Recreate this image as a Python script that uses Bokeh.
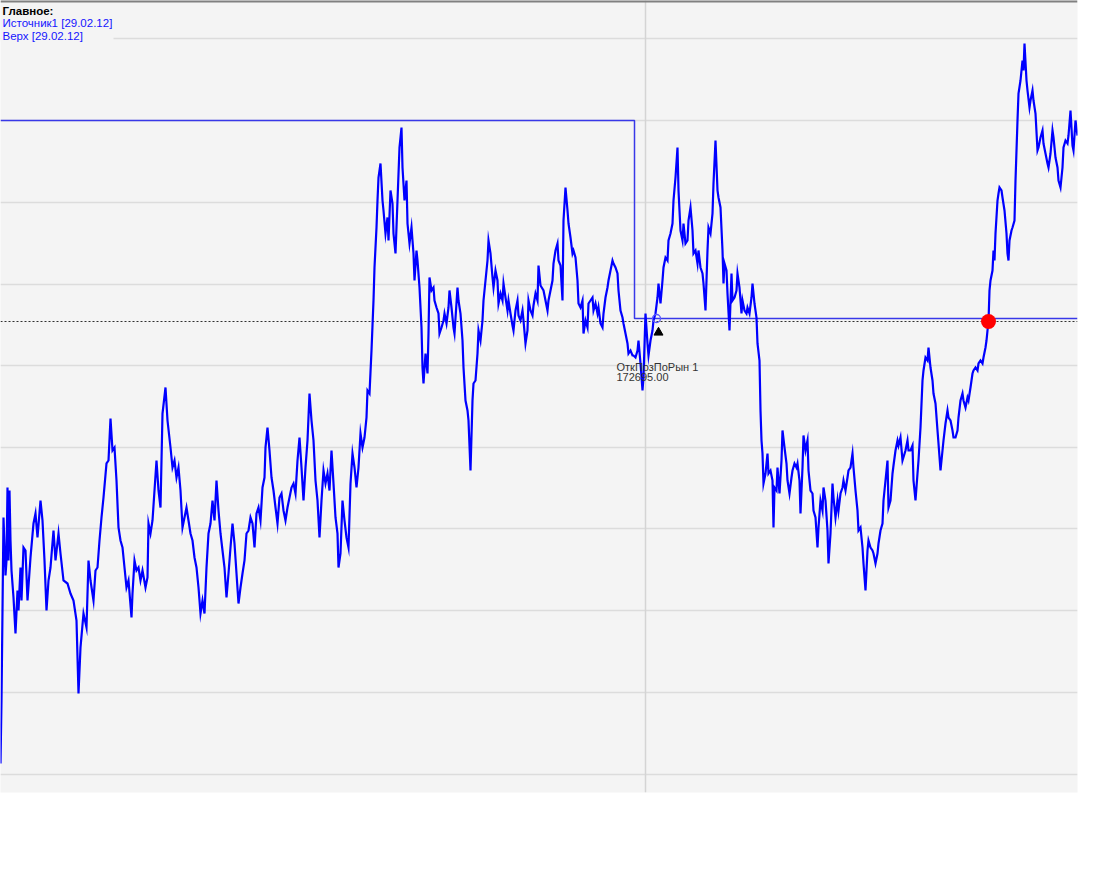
from bokeh.plotting import figure
from bokeh.models import Range1d, Span, Label, BoxAnnotation, FixedTicker
from bokeh.embed import file_html
from bokeh.resources import INLINE

# ---- price series "Источник1" (bar index, price) ----
bar_a = [0,1,2,3,5,6,7,8,9,10,11,13,15,17,18,20,21,23,25,27,30,33,35,37,40,42,44,46,48,50,
         53,55,58,60,63,67,70,73,76,78,80,83,86,88,90,93,95,97,99,101,103,106,108,110,112,114,116,118,120,122,
         124,126,128,131,132,134,136,138,140,142,145,147,148,150,152,154,156,158,160,162,165,167,170,172,174,176,178]
price_a = [170485,170800,171250,171715,171425,171500,171865,171500,171850,171600,
           171450,171315,171135,171350,171250,171465,171300,171565,171550,171300,
           171515,171685,171735,171615,171800,171700,171500,171250,171400,171465,
           171650,171500,171635,171535,171400,171385,171335,171300,171200,170835,
           171065,171235,171165,171500,171400,171300,171450,171465,171600,171715,
           171815,171985,172000,172210,172050,172065,171900,171665,171600,171565,
           171465,171365,171400,171215,171335,171500,171450,171465,171400,171450,
           171365,171415,171685,171635,171700,171850,172000,171850,171765,172235,
           172365,172200,172065,171965,172000,171915,171965]

bar_b = [180,182,184,186,188,190,192,194,196,198,200,202,204,206,208,210,212,214,216,218,
         220,222,224,226,228,230,232,234,236,238,240,242,244,246,248,250,252,254,256,258,
         260,262,264,265,267,269,271,273,275,277,279,281,283,285,287,289,291,293,295,297,
         299,301,303,305,307,309,311,313,315,317,319,321,323,325,327,329,331,333,335,337,
         338,340,342,344,346,348,350,352,354,356,358]
price_b = [171850,171665,171715,171765,171700,171635,171600,171515,171465,171365,
           171235,171300,171235,171465,171635,171685,171800,171700,171900,171750,
           171635,171550,171465,171315,171435,171565,171685,171585,171435,171285,
           171365,171435,171500,171635,171650,171715,171685,171565,171735,171765,
           171700,171865,171915,172065,172165,172050,171915,171850,171765,171685,
           171815,171835,171750,171700,171765,171815,171865,171885,171835,172000,
           172115,171965,171800,171965,172100,172335,172200,172100,171900,171800,
           171615,171800,171950,171885,171935,171850,172050,171885,171715,171635,
           171465,171535,171800,171700,171615,171565,171885,172035,171965,171865,
           171965]

bar_c = [360,362,364,366,367,369,371,373,374,376,377,378,380,382,383,385,387,388,390,392,
         393,395,397,399,401,402,404,406,407,409,411,413,414,416,417,419,421,422,423,425,
         427,428,429,431,433,434,436,438,439,441,443,444,446,448,449,451,453,454,457,458,
         460,462,463,465,467,468,470,472,473,475,477,478,480,482,483,485,487,488,490,492,
         493,495,497,498,500,502,503,505,507,508,510,512,513,515,517,518,520,522,523,525,
         527,528,530,532,533,535,537,538]
price_c = [172135,172065,172115,172215,172350,172335,172550,172800,172965,173165,
           173300,173415,173485,173300,173250,173135,173215,173100,173350,173285,
           173135,173035,173300,173565,173665,173465,173300,173400,173185,173085,
           173165,173035,172900,173050,173000,172865,172665,172465,172385,172535,
           172435,172635,172915,172850,172865,172800,172765,172735,172635,172665,
           172700,172735,172685,172765,172850,172765,172665,172635,172865,172800,
           172735,172600,172465,172300,172250,172200,171950,172300,172385,172400,
           172535,172650,172600,172700,172800,172900,173000,173100,173035,172915,
           172865,172950,172900,172785,172835,172800,172885,172815,172750,172800,
           172735,172675,172650,172750,172800,172725,172700,172750,172700,172585,
           172650,172800,172750,172725,172775,172835,172800,172975]

bar_d = [540,543,547,548,552,553,555,557,558,560,562,563,565,567,568,570,572,573,575,577,
         578,580,582,583,585,587,588,590,592,593,595,597,598,600,602,603,605,607,608,610,
         612,613,615,617,618,620,622,623,625,627,628,630,632,633,635,637,638,640,642,643,
         645,647,648,650,652,653,655,657,658,660,662,663,665,667,668,670,672,673,675,677,
         678,680,682,683,685,687,688,690,692,693,695,697,698,700,702,703,705,707,708,710,
         712,713,715,717,718,720]
price_d = [172875,172850,172750,172800,172900,172985,173050,173085,173000,172975,
           172800,173200,173365,173250,173185,173115,173035,173050,173015,172900,
           172785,172765,172800,172635,172700,172665,172785,172800,172815,172750,
           172785,172735,172765,172685,172665,172735,172815,172865,172900,172950,
           173000,172985,172965,172935,172850,172750,172715,172685,172635,172585,
           172535,172550,172525,172525,172515,172550,172600,172485,172350,172415,
           172735,172585,172525,172600,172650,172700,172735,172815,172885,172785,
           172900,172965,173015,173000,173100,173135,173185,173300,173415,173565,
           173350,173150,173100,173185,173085,173100,173200,173265,173150,173035,
           173050,172985,173050,172965,172935,172885,172750,173050,173165,173135,
           173235,173385,173600,173350,173315,173265]

bar_e = [722,723,724,726,727,729,731,732,734,736,737,739,741,742,744,746,747,749,751,752,
         754,756,757,759,760,761,762,763,765,767,768,770,772,773,774,776,777,779,781,782,
         784,786,787,789,791,792,794,796,797,799,800,802,803,805,807,808,810,812,813,815,
         817,818,820,822,823,825,827,828,830,832,833,835,837,838,840,842,843,845,847,848,
         850,852,853,855,857,858,860,862,863,865,867,868,870,872,873,875,877,878,880,882,
         883,885,887,888,890,892,893,895,897,898]
price_e = [173050,172885,172985,172950,172835,172650,172935,172800,172815,172850,
           172935,172865,172735,172800,172750,172735,172765,172735,172815,172885,
           172785,172715,172585,172500,172250,172100,172035,171885,171935,172035,
           171935,171950,171900,171665,171865,171850,171965,171835,172000,172150,
           172065,171985,171900,171835,171915,171950,171985,171965,171985,171900,
           171735,171965,172125,172050,172100,171950,171850,171835,171750,171715,
           171565,171665,171800,171750,171865,171800,171650,171485,171635,171885,
           171815,171715,171800,171750,171835,171865,171900,171850,171915,171950,
           171965,172035,171965,171850,171750,171650,171665,171565,171485,171350,
           171550,171600,171565,171550,171535,171485,171535,171585,171650,171685,
           171800,171900,172000,171765,171800,171935,171975,172050,172100,172075]

bar_f = [900,902,905,907,908,910,912,913,915,917,918,920,922,923,925,927,928,930,932,933,
         935,937,938,940,942,943,945,947,948,950,952,953,955,957,958,960,962,963,965,967,
         968,970,972,973,975,977,978,980,982,983,985,986,987,988,989,990,992,993,994,995,
         997,998,999,1001,1002,1004,1006,1007,1008,1009,1011,1012,1014,1015,1016,1017,1018,1020,1022,1023,
         1024,1026,1027,1029,1030,1032,1033,1035,1037,1038,1040,1042,1043,1045,1047,1048,1050,1052,1053,1055,
         1057,1058,1060,1062,1063,1065,1067,1068,1070,1072,1073,1075,1077]
price_f = [172115,172000,172050,172100,172050,172050,172075,171900,171800,171935,
           172000,172165,172400,172450,172515,172500,172565,172465,172400,172335,
           172285,172150,172085,171950,172050,172100,172185,172250,172215,172200,
           172150,172115,172115,172150,172215,172300,172335,172300,172265,172315,
           172300,172365,172435,172450,172465,172450,172485,172500,172485,172515,
           172565,172600,172650,172695,172850,172900,172950,173050,173000,173135,
           173300,173335,173365,173350,173315,173250,173135,173035,173000,173100,
           173150,173165,173200,173400,173550,173700,173835,173900,174000,173950,
           174085,173900,173850,173765,173800,173850,173800,173735,173550,173565,
           173615,173650,173585,173535,173485,173465,173535,173650,173615,173515,
           173465,173400,173365,173465,173565,173600,173585,173625,173750,173575,
           173550,173700,173625]

bars = bar_a + bar_b + bar_c + bar_d + bar_e + bar_f
prices = price_a + price_b + price_c + price_d + price_e + price_f

# ---- "Верх" level (step line) ----
upper_bars = [0, 634, 634, 1077]
upper_vals = [173700, 173700, 172710, 172710]

# ---- crosshair / position marks ----
cross_bar = 645
cross_price = 172695
entry_bar = [656]
entry_price = [172710]
arrow_bar = [658]
arrow_price = [172640]
signal_bar = [988]
signal_price = [172695]
grid_levels = [174110, 173700, 173290, 172880, 172475, 172065, 171660, 171250, 170840, 170430]

p = figure(width=1102, height=853, x_range=Range1d(0, 1077), y_range=Range1d(170340, 174300),
           output_backend="svg", toolbar_location=None,
           min_border_left=0, min_border_right=25, min_border_top=0, min_border_bottom=61,
           background_fill_color="#f4f4f4", border_fill_color="white")
p.xaxis.visible = False
p.yaxis.visible = False
p.xgrid.visible = False
p.ygrid.ticker = FixedTicker(ticks=grid_levels)
p.ygrid.grid_line_color = "#dcdcdc"
p.ygrid.grid_line_width = 1.5
p.outline_line_color = None

p.add_layout(Span(location=cross_bar, dimension="height", line_color="#d4d4d4",
                  line_width=1.5, level="underlay"))
p.add_layout(Span(location=cross_price, dimension="width", line_color="#303030",
                  line_width=1, line_dash="2 2", level="underlay"))

p.line(upper_bars, upper_vals, line_color="#3838e8", line_width=1.5)
p.line(bars, prices, line_color="#0000ff", line_width=2.2, line_join="miter")

p.scatter(entry_bar, entry_price, marker="circle", size=8, fill_color=None,
          line_color="#5a5aff", line_width=1.3)
p.scatter(arrow_bar, arrow_price, marker="triangle", size=9, fill_color="black",
          line_color="black")
p.scatter(signal_bar, signal_price, marker="circle", size=15, fill_color="#ff0000",
          line_color=None)

p.add_layout(BoxAnnotation(left=0, right=113, top=174300, bottom=174095,
                           fill_color="#f4f4f4", fill_alpha=1, line_color=None))
p.add_layout(Span(location=174300, dimension="width", line_color="#808080", line_width=4))

font = "Liberation Sans"
p.add_layout(Label(x=2, y=174280, text="Главное:", text_font=font, text_font_size="11.5px",
                   text_font_style="bold", text_color="black", text_baseline="top"))
p.add_layout(Label(x=2, y=174217, text="Источник1 [29.02.12]", text_font=font,
                   text_font_size="11.5px", text_color="#1414ff", text_baseline="top"))
p.add_layout(Label(x=2, y=174155, text="Верх [29.02.12]", text_font=font,
                   text_font_size="11.5px", text_color="#1414ff", text_baseline="top"))
p.add_layout(Label(x=616, y=172500, text="ОткПозПоРын 1", text_font=font,
                   text_font_size="11px", text_color="#333333", text_baseline="top"))
p.add_layout(Label(x=616, y=172440, text="172695.00", text_font=font,
                   text_font_size="11px", text_color="#333333", text_baseline="top"))

open("out.html", "w").write(file_html(p, INLINE))
